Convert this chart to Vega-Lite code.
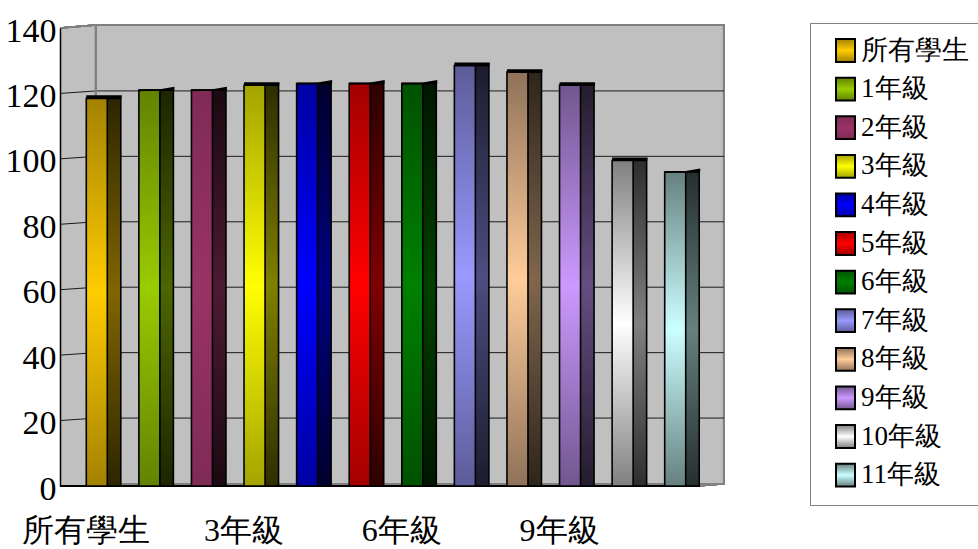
{
  "$schema": "https://vega.github.io/schema/vega-lite/v6.json",
  "width": 631,
  "height": 458,
  "autosize": "none",
  "padding": {"left": 60, "top": 28, "right": 287, "bottom": 63},
  "background": "white",
  "config": {"view": {"stroke": null}},
  "params": [
    {"name": "frontEdge", "value": {"所有學生": "#A38200", "1年級": "#628200", "2年級": "#7F2B55", "3年級": "#A3A300", "4年級": "#0000A3", "5年級": "#A30000", "6年級": "#005200", "7年級": "#5C5C99", "8年級": "#8F725A", "9年級": "#72568F", "10年級": "#808080", "11年級": "#668080"}},
    {"name": "frontMid", "value": {"所有學生": "#FFCC00", "1年級": "#99CC00", "2年級": "#993366", "3年級": "#FFFF00", "4年級": "#0000FF", "5年級": "#FF0000", "6年級": "#008000", "7年級": "#9999FF", "8年級": "#FFCC99", "9年級": "#CC99FF", "10年級": "#FFFFFF", "11年級": "#CCFFFF"}},
    {"name": "sideEdge", "value": {"所有學生": "#2E2500", "1年級": "#1C2500", "2年級": "#1C0912", "3年級": "#2E2E00", "4年級": "#00002E", "5年級": "#2E0000", "6年級": "#001700", "7年級": "#1C1C2E", "8年級": "#2E251C", "9年級": "#251C2E", "10年級": "#2E2E2E", "11年級": "#252E2E"}},
    {"name": "sideMid", "value": {"所有學生": "#806600", "1年級": "#4D6600", "2年級": "#4D1A33", "3年級": "#808000", "4年級": "#000080", "5年級": "#800000", "6年級": "#004000", "7年級": "#4D4D80", "8年級": "#80664D", "9年級": "#664D80", "10年級": "#808080", "11年級": "#668080"}}
  ],
  "data": {"values": [
    {"grade": "所有學生", "score": 118.5},
    {"grade": "1年級", "score": 121},
    {"grade": "2年級", "score": 121},
    {"grade": "3年級", "score": 122.5},
    {"grade": "4年級", "score": 123},
    {"grade": "5年級", "score": 123},
    {"grade": "6年級", "score": 123},
    {"grade": "7年級", "score": 128.5},
    {"grade": "8年級", "score": 126.5},
    {"grade": "9年級", "score": 122.5},
    {"grade": "10年級", "score": 99.5},
    {"grade": "11年級", "score": 96}
  ]},
  "resolve": {"scale": {"x": "independent"}},
  "layer": [
    {
      "layer": [
        {
          "mark": {"type": "rect", "color": "#C0C0C0", "stroke": "#808080", "strokeWidth": 2, "yOffset": -3, "y2Offset": -2},
          "encoding": {
            "x": {"datum": 0.057, "type": "quantitative", "scale": {"domain": [0, 1]}, "axis": null},
            "x2": {"datum": 1.052},
            "y": {"datum": 140, "type": "quantitative", "scale": {"domain": [0, 140]}, "axis": {"title": null, "values": [0, 20, 40, 60, 80, 100, 120, 140], "grid": false, "ticks": false, "domainColor": "#000000", "domainWidth": 1.5, "labelFont": "Liberation Serif", "labelFontSize": 34, "labelColor": "#000000", "labelPadding": 4, "labelOffset": 3, "zindex": 1}},
            "y2": {"datum": 0}
          }
        },
        {
          "mark": {"type": "rect", "color": "#C0C0C0"},
          "encoding": {
            "x": {"datum": 0, "type": "quantitative"},
            "x2": {"datum": 0.057},
            "y": {"datum": 140, "type": "quantitative"},
            "y2": {"datum": 0}
          }
        },
        {
          "mark": {"type": "point", "filled": true, "color": "#C0C0C0", "opacity": 1, "size": 4, "strokeWidth": 0, "shape": "M0 0L36 -3L36 0Z"},
          "encoding": {
            "x": {"datum": 0, "type": "quantitative"},
            "y": {"datum": 140, "type": "quantitative"}
          }
        },
        {
          "data": {"values": [{"tick": 20}, {"tick": 40}, {"tick": 60}, {"tick": 80}, {"tick": 100}, {"tick": 120}]},
          "mark": {"type": "rule", "color": "#1a1a1a", "strokeWidth": 1, "yOffset": -2.5},
          "encoding": {
            "x": {"datum": 0.057, "type": "quantitative"},
            "x2": {"datum": 1.052},
            "y": {"field": "tick", "type": "quantitative"}
          }
        },
        {
          "data": {"values": [{"tick": 20}, {"tick": 40}, {"tick": 60}, {"tick": 80}, {"tick": 100}, {"tick": 120}]},
          "mark": {"type": "rule", "color": "#1a1a1a", "strokeWidth": 1, "y2Offset": -2.5},
          "encoding": {
            "x": {"datum": 0, "type": "quantitative"},
            "x2": {"datum": 0.057},
            "y": {"field": "tick", "type": "quantitative"},
            "y2": {"field": "tick"}
          }
        },
        {
          "mark": {"type": "rule", "color": "#808080", "strokeWidth": 1.5, "y2Offset": -3},
          "encoding": {
            "x": {"datum": 0, "type": "quantitative"},
            "x2": {"datum": 0.057},
            "y": {"datum": 140, "type": "quantitative"},
            "y2": {"datum": 140}
          }
        },
        {
          "mark": {"type": "rule", "color": "#808080", "strokeWidth": 2, "yOffset": -3, "y2Offset": -2},
          "encoding": {
            "x": {"datum": 0.057, "type": "quantitative"},
            "y": {"datum": 140, "type": "quantitative"},
            "y2": {"datum": 0}
          }
        },
        {
          "mark": {"type": "rule", "color": "#808080", "strokeWidth": 1, "y2Offset": -2},
          "encoding": {
            "x": {"datum": 1.014, "type": "quantitative"},
            "x2": {"datum": 1.052},
            "y": {"datum": 0, "type": "quantitative"},
            "y2": {"datum": 0}
          }
        },
        {
          "mark": {"type": "rule", "color": "#000000", "strokeWidth": 1.5},
          "encoding": {
            "x": {"datum": 0, "type": "quantitative"},
            "x2": {"datum": 1.014},
            "y": {"datum": 0, "type": "quantitative"}
          }
        }
      ]
    },
    {
      "encoding": {
        "x": {
          "field": "grade",
          "type": "nominal",
          "sort": null,
          "scale": {"type": "band", "paddingInner": 0, "paddingOuter": 0},
          "axis": {"orient": "bottom", "title": null, "values": ["所有學生", "3年級", "6年級", "9年級"], "labelAngle": 0, "domain": false, "ticks": false, "labelFont": "Liberation Serif", "labelFontSize": 32, "labelColor": "#000000", "labelPadding": 29, "labelOverlap": false}
        }
      },
      "layer": [
        {
          "mark": {
            "type": "bar", "width": 14, "xOffset": 27.5, "stroke": "#000000", "strokeWidth": 1.6, "y2Offset": -1,
            "fill": {"expr": "{x1:0,y1:0,x2:0,y2:1,gradient:'linear',stops:[{offset:0,color:sideEdge[datum.grade]},{offset:0.5,color:sideMid[datum.grade]},{offset:1,color:sideEdge[datum.grade]}]}"}
          },
          "encoding": {
            "y": {"field": "score", "type": "quantitative"}
          }
        },
        {
          "mark": {
            "type": "bar", "width": 21, "xOffset": 10.5, "strokeWidth": 1.6,
            "fill": {"expr": "{x1:0,y1:0,x2:0,y2:1,gradient:'linear',stops:[{offset:0,color:frontEdge[datum.grade||datum.value]},{offset:0.5,color:frontMid[datum.grade||datum.value]},{offset:1,color:frontEdge[datum.grade||datum.value]}]}"}
          },
          "encoding": {
            "y": {"field": "score", "type": "quantitative"},
            "stroke": {
              "field": "grade",
              "type": "nominal",
              "scale": {
                "domain": ["所有學生", "1年級", "2年級", "3年級", "4年級", "5年級", "6年級", "7年級", "8年級", "9年級", "10年級", "11年級"],
                "range": ["#000000"]
              },
              "legend": {
                "title": null,
                "orient": "none",
                "legendX": 750,
                "legendY": -5,
                "strokeColor": "#808080",
                "padding": 14,
                "symbolOffset": 8,
                "symbolType": "M-1 -1.2H1V1.2H-1Z",
                "symbolSize": 361,
                "symbolStrokeWidth": 2,
                "labelFont": "Liberation Serif",
                "labelFontSize": 27,
                "labelColor": "#000000",
                "labelOffset": 2,
                "rowPadding": 7.6,
                "labelLimit": 200
              }
            }
          }
        },
        {
          "transform": [{"filter": {"field": "grade", "oneOf": ["所有學生", "3年級", "7年級", "8年級", "9年級", "10年級"]}}],
          "mark": {"type": "point", "filled": true, "color": "#000000", "opacity": 1, "size": 4, "strokeWidth": 0, "xOffset": 21, "shape": "M-21 -3L14.5 -3L14.5 0L-21 0Z"},
          "encoding": {
            "y": {"field": "score", "type": "quantitative"}
          }
        },
        {
          "transform": [{"filter": {"field": "grade", "oneOf": ["1年級", "2年級", "4年級", "5年級", "6年級", "11年級"]}}],
          "mark": {"type": "point", "filled": true, "color": "#000000", "opacity": 1, "size": 4, "strokeWidth": 0, "xOffset": 21, "shape": "M-21 -1L0 -1L14.5 -3.5L14.5 0L-21 1Z"},
          "encoding": {
            "y": {"field": "score", "type": "quantitative"}
          }
        }
      ]
    }
  ]
}
